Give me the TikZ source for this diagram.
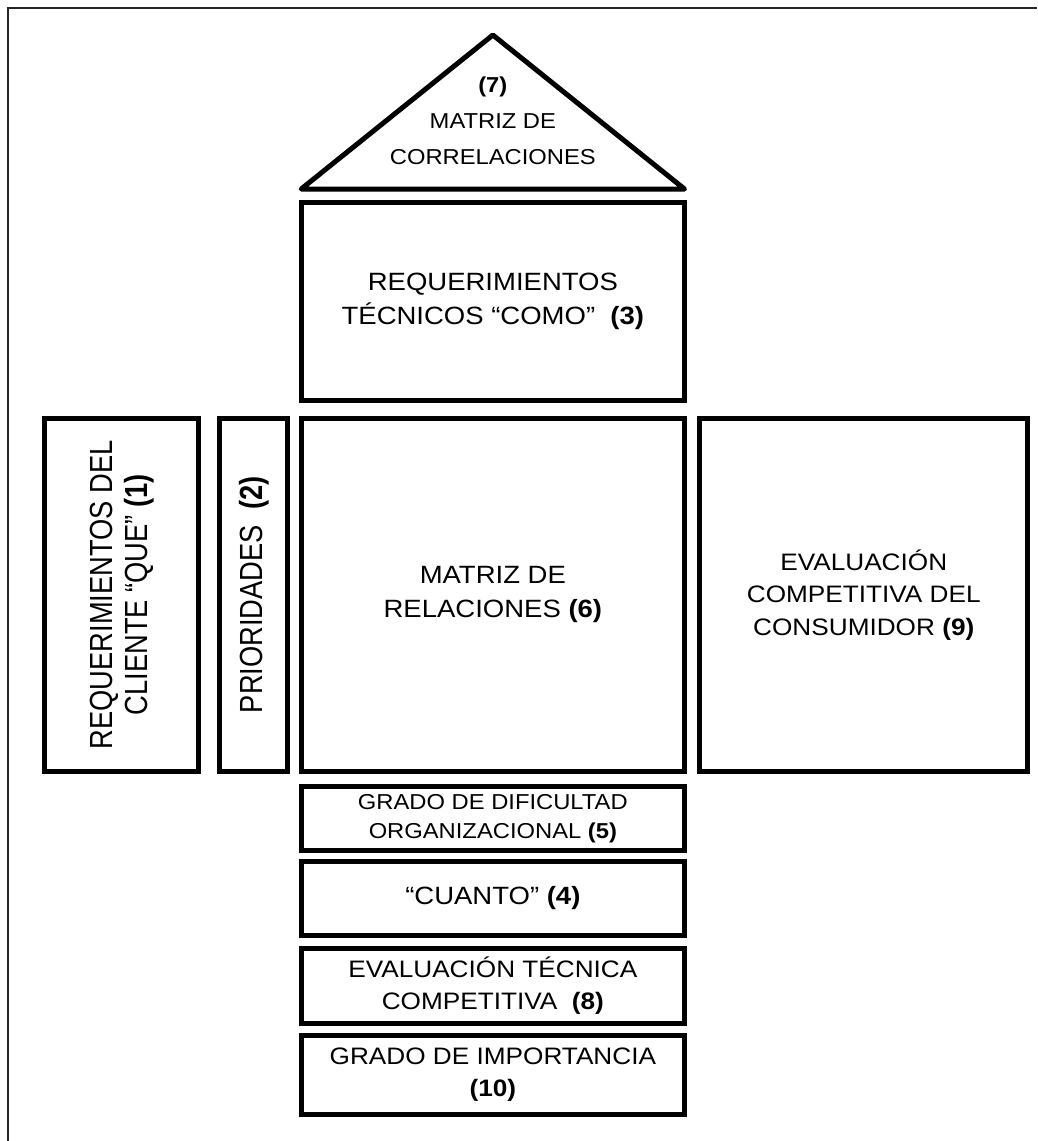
\documentclass[tikz,border=0pt]{standalone}
\usepackage{fontspec}
\setmainfont{Liberation Sans}[FakeStretch=1.1]
\newfontfamily\upfont{Liberation Sans}[FakeStretch=0.853]
\usetikzlibrary{positioning}
\tikzset{
  every picture/.append style={line width=5pt},
}
\tikzset{
  part/.style={draw, rectangle, align=center, inner sep=0pt, minimum width=383.3pt},
  upright/.style={draw, rectangle, align=center, inner sep=0pt, rotate=90, minimum width=353pt},
  big/.style={font=\fontsize{25}{34}\selectfont},
  mid/.style={font=\fontsize{23.8}{32.5}\selectfont},
  small/.style={font=\fontsize{21.6}{29}\selectfont},
  tall/.style={font=\upfont\fontsize{32}{35}\selectfont}
}

\begin{document}
\begin{tikzpicture}[x=1pt, y=-1pt]
\useasboundingbox (0,0) rectangle (1037,1141);

% page frame (only left and top edges show)
\draw[line width=2pt, black!85] (7.5,1141) -- (7.5,7.5) -- (1037,7.5);

% roof: correlation matrix
\coordinate (roofl) at (301.2,189);
\coordinate (apex) at (492.85,35);
\coordinate (roofr) at (684.5,189);
\draw[line join=round] (roofl) -- (apex) -- (roofr) -- cycle;
\node[small, align=center, font=\fontsize{21.6}{36}\selectfont] (corr) at (492.85,121) {\textbf{(7)}\\MATRIZ DE\\CORRELACIONES};

% central column
\node[part, big, minimum height=353pt] (rel) at (492.85,594.8) {MATRIZ DE\\RELACIONES \textbf{(6)}};
\node[part, big, minimum height=197.3pt, above=13.3pt of rel] (como) {REQUERIMIENTOS\\TÉCNICOS “COMO”~~\textbf{(3)}};
\node[part, small, minimum height=63.6pt, below=10.4pt of rel] (dific) {GRADO DE DIFICULTAD\\ORGANIZACIONAL \textbf{(5)}\hspace*{0pt}};
\node[part, big, minimum height=73.8pt, below=5.9pt of dific] (cuanto) {“CUANTO” \textbf{(4)}};
\node[part, mid, minimum height=74.7pt, below=8.3pt of cuanto] (evaltec) {EVALUACIÓN TÉCNICA\\COMPETITIVA~~\textbf{(8)}};
\node[part, mid, minimum height=79.5pt, below=7pt of evaltec] (import) {GRADO DE IMPORTANCIA\\\textbf{(10)}};

% left wing (text turned upright)
\node[upright, tall, minimum height=154.3pt] (que) at (121.7,594.8) {REQUERIMIENTOS DEL\\CLIENTE “QUE” \textbf{(1)}};
\node[upright, tall, minimum height=68.1pt] (prio) at (253.8,594.8) {PRIORIDADES~~\textbf{(2)}};

% right wing
\node[part, mid, minimum width=328.1pt, minimum height=353pt, right=10.2pt of rel] (consum) {EVALUACIÓN\\COMPETITIVA DEL\\CONSUMIDOR \textbf{(9)}};

\end{tikzpicture}
\end{document}
